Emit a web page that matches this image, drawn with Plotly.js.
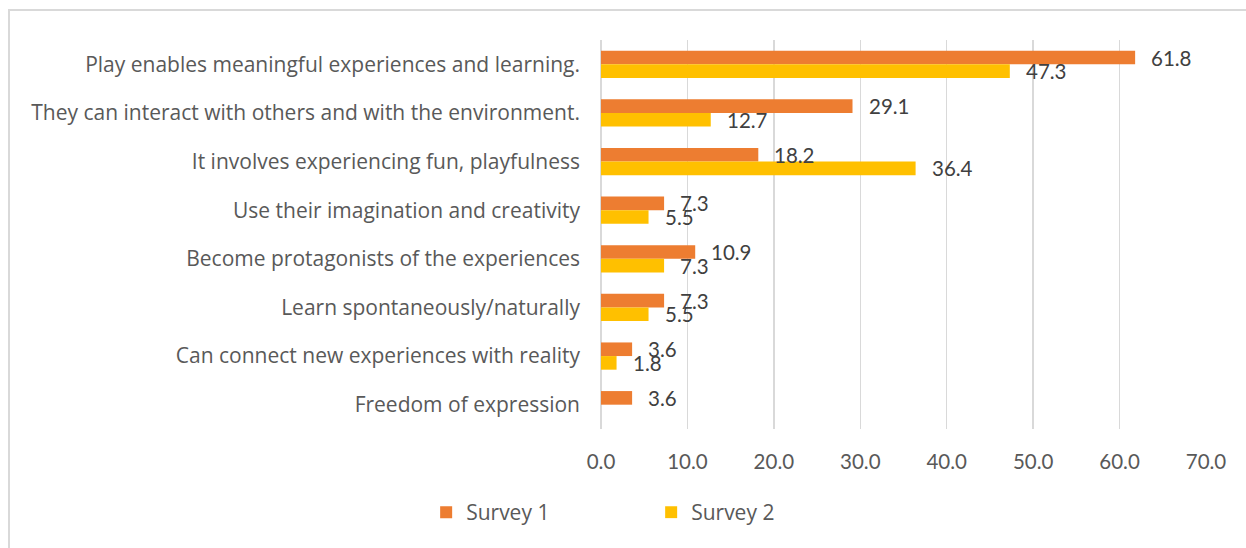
<!DOCTYPE html>
<html>
<head>
<meta charset="utf-8">
<script src="https://cdn.plot.ly/plotly-3.0.1.min.js"></script>
<style>
  html, body { margin: 0; padding: 0; background: #ffffff; }
  #wrap { position: relative; width: 1246px; height: 548px; overflow: hidden; }
  #chart { position: absolute; left: 0; top: 0; width: 1246px; height: 548px; }
  .bt { position: absolute; left: 8px; top: 9px; width: 1238px; height: 2px; background: #d9d9d9; }
  .bl { position: absolute; left: 8px; top: 9px; width: 2px; height: 539px; background: #d9d9d9; }
</style>
</head>
<body>
<div id="wrap">
  <div class="bt"></div>
  <div class="bl"></div>
  <div id="chart"></div>
</div>
<script>
// Data
const categories = [
  "Play enables meaningful experiences and learning.",
  "They can interact with others and with the environment.",
  "It involves experiencing fun, playfulness",
  "Use their imagination and creativity",
  "Become protagonists of the experiences",
  "Learn spontaneously/naturally",
  "Can connect new experiences with reality",
  "Freedom of expression"
];
const survey1 = [61.8, 29.1, 18.2, 7.3, 10.9, 7.3, 3.6, 3.6];
const survey2 = [47.3, 12.7, 36.4, 5.5, 7.3, 5.5, 1.8, null];
const seriesNames = ["Survey 1", "Survey 2"];
const xTickVals = [0, 10, 20, 30, 40, 50, 60, 70];
const xTickText = ["0.0", "10.0", "20.0", "30.0", "40.0", "50.0", "60.0", "70.0"];

const FONT = "Lato, 'Open Sans', sans-serif";
const FONT2 = "'Open Sans', Lato, sans-serif";
const TXT = "#595959";
const LBL = "#404040";

const traces = [
  { type: "bar", orientation: "h", name: seriesNames[0], y: categories, x: survey1,
    marker: { color: "#ED7D31" }, hoverinfo: "x" },
  { type: "bar", orientation: "h", name: seriesNames[1], y: categories, x: survey2,
    marker: { color: "#FFC000" }, hoverinfo: "x" }
];

const annotations = [];
function addLabels(vals, shift) {
  vals.forEach((v, i) => {
    if (v === null || v === undefined) return;
    annotations.push({
      x: v, y: categories[i], xref: "x", yref: "y",
      text: v.toFixed(1), showarrow: false,
      xanchor: "left", yanchor: "middle",
      xshift: 14, yshift: shift,
      font: { family: FONT, size: 20.5, color: LBL }
    });
  });
}
addLabels(survey1, 6.8);
addLabels(survey2, -6.8);

const layout = {
  width: 1246, height: 548,
  paper_bgcolor: "rgba(0,0,0,0)", plot_bgcolor: "rgba(0,0,0,0)",
  margin: { l: 601, r: 40, t: 40, b: 119.4, pad: 0 },
  barmode: "group", bargap: 0.44, bargroupgap: 0,
  font: { family: FONT, size: 20, color: TXT },
  showlegend: true,
  legend: {
    orientation: "h", x: -0.289, xanchor: "left", y: -0.2146, yanchor: "middle",
    font: { family: FONT2, size: 21, color: TXT }, traceorder: "normal",
    entrywidth: 180, entrywidthmode: "pixels", bgcolor: "rgba(0,0,0,0)"
  },
  xaxis: {
    range: [0, 70], tickvals: xTickVals, ticktext: xTickText,
    showgrid: true, gridcolor: "#d9d9d9", gridwidth: 1.5,
    zeroline: true, zerolinecolor: "#d9d9d9", zerolinewidth: 1.5,
    showline: false, ticks: "", ticklabelstandoff: 18,
    tickfont: { family: FONT, size: 20.5, color: TXT }, fixedrange: true
  },
  yaxis: {
    type: "category", categoryorder: "array", categoryarray: categories,
    autorange: "reversed", showgrid: false, zeroline: false, showline: false,
    ticks: "", ticklabelstandoff: 20,
    tickfont: { family: FONT2, size: 21, color: TXT }, fixedrange: true
  },
  annotations: annotations
};

Plotly.newPlot("chart", traces, layout, { displayModeBar: false, staticPlot: true });
</script>
</body>
</html>
